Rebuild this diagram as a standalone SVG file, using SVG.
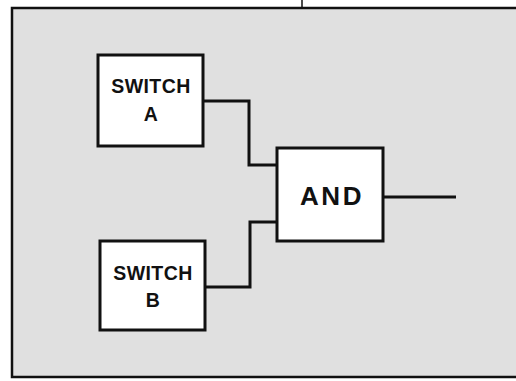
<svg xmlns="http://www.w3.org/2000/svg" width="516" height="381" viewBox="0 0 516 381">
<style>
.box{fill:#ffffff;stroke:#111;stroke-width:3}
.wire{fill:none;stroke:#111;stroke-width:3;stroke-linejoin:miter}
.lbl{font-family:"Liberation Sans",Arial,sans-serif;font-weight:bold;fill:#111;text-anchor:middle}
.sm{font-size:19.5px;letter-spacing:0.4px}
.lg{font-size:26px;letter-spacing:2.5px}
</style>
<rect x="0" y="0" width="516" height="381" fill="#ffffff"/>
<g id="frame">
<rect x="12" y="8" width="530" height="369" fill="#e0e0e0" stroke="#111" stroke-width="2.5"/>
<line x1="302" y1="0" x2="302" y2="8" stroke="#111" stroke-width="1.5"/>
</g>
<g id="connectors">
<polyline class="wire" points="203,101 249,101 249,165 277,165"/>
<polyline class="wire" points="205,287 250,287 250,222 277,222"/>
<line class="wire" x1="383" y1="197" x2="456" y2="197"/>
</g>
<g id="switchA">
<rect class="box" x="98" y="55" width="105" height="91"/>
<text class="lbl sm" x="151" y="93">SWITCH</text>
<text class="lbl sm" x="151" y="121">A</text>
</g>
<g id="switchB">
<rect class="box" x="100" y="241" width="105" height="89"/>
<text class="lbl sm" x="153" y="280">SWITCH</text>
<text class="lbl sm" x="153" y="307">B</text>
</g>
<g id="and">
<rect class="box" x="277" y="148" width="106" height="93"/>
<text class="lbl lg" x="332" y="205">AND</text>
</g>
</svg>
